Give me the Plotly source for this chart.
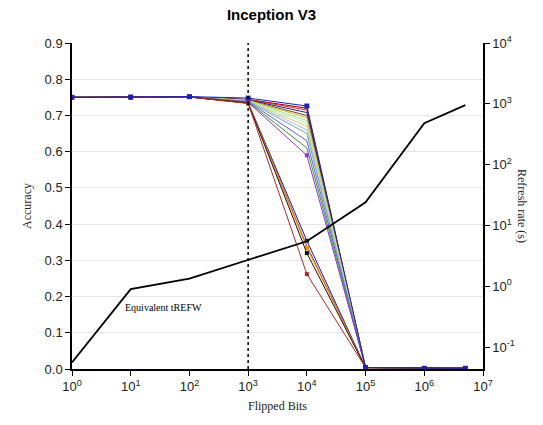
import plotly.graph_objects as go

flipped_bits = [1, 10, 100, 1000, 10000, 100000, 1000000, 5000000]

# accuracy series (one per configuration)
acc_series = {
    "s01": [0.750, 0.750, 0.751, 0.744, 0.720, 0.004, 0.002, 0.002],
    "s02": [0.750, 0.750, 0.751, 0.744, 0.715, 0.004, 0.002, 0.002],
    "s03": [0.750, 0.750, 0.751, 0.743, 0.708, 0.004, 0.002, 0.002],
    "s04": [0.750, 0.750, 0.751, 0.742, 0.700, 0.004, 0.002, 0.002],
    "s05": [0.750, 0.750, 0.751, 0.742, 0.694, 0.004, 0.002, 0.002],
    "s06": [0.750, 0.750, 0.751, 0.741, 0.686, 0.004, 0.002, 0.002],
    "s07": [0.750, 0.750, 0.751, 0.741, 0.678, 0.004, 0.002, 0.002],
    "s08": [0.750, 0.750, 0.751, 0.740, 0.670, 0.004, 0.002, 0.002],
    "s09": [0.750, 0.750, 0.751, 0.740, 0.660, 0.004, 0.002, 0.002],
    "s10": [0.750, 0.750, 0.751, 0.739, 0.650, 0.004, 0.002, 0.002],
    "s11": [0.750, 0.750, 0.751, 0.738, 0.630, 0.004, 0.002, 0.002],
    "s12": [0.750, 0.750, 0.751, 0.737, 0.610, 0.004, 0.002, 0.002],
    "s13": [0.750, 0.750, 0.751, 0.736, 0.590, 0.004, 0.002, 0.002],
    "s14": [0.750, 0.750, 0.751, 0.735, 0.354, 0.004, 0.002, 0.002],
    "s15": [0.750, 0.750, 0.751, 0.735, 0.340, 0.004, 0.002, 0.002],
    "s16": [0.750, 0.750, 0.751, 0.734, 0.334, 0.004, 0.002, 0.002],
    "s17": [0.750, 0.750, 0.751, 0.734, 0.320, 0.004, 0.002, 0.002],
    "s18": [0.750, 0.750, 0.751, 0.733, 0.262, 0.004, 0.002, 0.002],
    "s00": [0.750, 0.751, 0.752, 0.748, 0.726, 0.004, 0.002, 0.002],
}
series_colors = {
    "s01": "#8b0000", "s02": "#d62728", "s03": "#1f1f7a", "s04": "#7f3f1f",
    "s05": "#bcbd22", "s06": "#98df8a", "s07": "#c7e9b4", "s08": "#dbc77a",
    "s09": "#9ecae1", "s10": "#7f9fbf", "s11": "#6a5acd", "s12": "#2ca02c",
    "s13": "#9932cc", "s14": "#1a1aa6", "s15": "#a0522d", "s16": "#ff8c00",
    "s17": "#111111", "s18": "#a52a2a", "s00": "#2020b0",
}
marked = {"s00", "s13", "s14", "s16", "s17", "s18"}

# equivalent tREFW (right axis, seconds)
trefw = [0.056, 0.9, 1.34, 2.7, 5.5, 24, 480, 950]

fig = go.Figure()

for name, vals in acc_series.items():
    fig.add_trace(go.Scatter(
        x=flipped_bits, y=vals, mode="lines+markers" if name in marked else "lines",
        name=name,
        line=dict(color=series_colors[name], width=1),
        marker=dict(symbol="square", size=4 if name != "s00" else 5,
                    color=series_colors[name]),
        showlegend=False))

fig.add_trace(go.Scatter(
    x=flipped_bits, y=trefw, mode="lines", yaxis="y2",
    line=dict(color="black", width=1.8), showlegend=False))

fig.add_shape(type="line", xref="x", yref="paper", x0=1000, x1=1000, y0=0, y1=1,
              line=dict(color="black", width=1.5, dash="dot"))

fig.add_annotation(x=1.55, y=0.17, xref="x", yref="y", text="Equivalent tREFW",
                   showarrow=False, xanchor="center",
                   font=dict(family="Liberation Serif", size=10, color="black"))

xt = [0, 1, 2, 3, 4, 5, 6, 7]
fig.update_layout(
    width=543, height=425,
    margin=dict(l=72, r=60, t=43, b=56),
    plot_bgcolor="white", paper_bgcolor="white",
    title=dict(text="<b>Inception V3</b>", x=0.5, xanchor="center", y=0.965,
               yanchor="middle",
               font=dict(family="Liberation Sans", size=15, color="black")),
    xaxis=dict(type="log", range=[0, 7], tickvals=[10 ** e for e in xt],
               ticktext=[f"10<sup>{e}</sup>" for e in xt],
               showline=True, linecolor="black", linewidth=1.5,
               ticks="outside", ticklen=5, tickcolor="black", showgrid=False,
               zeroline=False,
               tickfont=dict(family="Liberation Sans", size=13, color="#222"),
               title=dict(text="Flipped Bits", standoff=8,
                          font=dict(family="Liberation Serif", size=12, color="#222"))),
    yaxis=dict(range=[0, 0.9], dtick=0.1, tickformat=".1f",
               showline=True, linecolor="black", linewidth=1.5,
               ticks="outside", ticklen=5, tickcolor="black",
               showgrid=True, gridcolor="#e6e6e6", gridwidth=1, zeroline=False,
               tickfont=dict(family="Liberation Sans", size=13, color="#222"),
               title=dict(text="Accuracy", standoff=10,
                          font=dict(family="Liberation Serif", size=12, color="#222"))),
    yaxis2=dict(type="log", range=[-1.36, 4], overlaying="y", side="right",
                tickvals=[10 ** e for e in [-1, 0, 1, 2, 3, 4]],
                ticktext=[f"10<sup>{e}</sup>" for e in [-1, 0, 1, 2, 3, 4]],
                showline=True, linecolor="black", linewidth=1.5,
                ticks="outside", ticklen=5, tickcolor="black", showgrid=False,
                zeroline=False,
                tickfont=dict(family="Liberation Sans", size=13, color="#222")),
)

fig.add_annotation(x=1.0, xref="paper", xshift=48, y=0.5, yref="paper",
                   text="Refresh rate (s)", textangle=90, showarrow=False,
                   font=dict(family="Liberation Serif", size=12, color="#222"))

fig.write_html("out.html")
